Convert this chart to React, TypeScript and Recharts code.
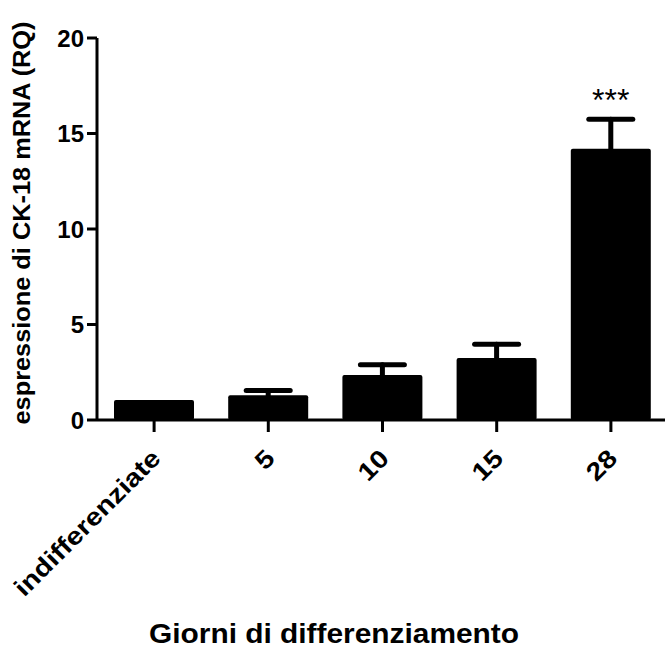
import { BarChart, Bar, XAxis, YAxis, ErrorBar, LabelList } from 'recharts'

const categories = ['indifferenziate', '5', '10', '15', '28']
const means = [1.05, 1.3, 2.35, 3.25, 14.2]
const errors = [0, 0.24, 0.54, 0.72, 1.55]
const significance = ['', '', '', '', '***']
const yTicks = [0, 5, 10, 15, 20]

// only the upper whisker shows in the original; the lower one is kept inside the black bar
const data = categories.map((c, i) => ({
    name: c,
    value: means[i],
    err: errors[i] > 0 ? [means[i] / 2, errors[i]] : null,
    sig: significance[i],
}))

const FONT = '"Liberation Sans", Arial, sans-serif'

// x tick labels: rotated 45deg, a bit wider than plain Arial like the original
function XTick({ x, y, payload }: any) {
    return (
        <g transform={`translate(${x + 8},${y + 26}) rotate(-45) scale(1.15,1)`}>
            <text x={0} y={0} textAnchor="end" fontFamily={FONT} fontWeight="bold" fontSize={25} fill="#000">
                {payload.value}
            </text>
        </g>
    )
}

function StarLabel(props: any) {
    const { x, y, width, height, value, index } = props
    if (!value) return null
    const pxPerUnit = height / means[index]
    const top = y - errors[index] * pxPerUnit
    return (
        <text x={x + width / 2} y={top - 8} textAnchor="middle" fontFamily={FONT} fontSize={32} fill="#000">
            {value}
        </text>
    )
}

export default function App() {
    return (
        <div style={{ position: 'absolute', left: 0, top: 0, width: 665, height: 652, overflow: 'hidden', background: '#fff' }}>
            <BarChart width={680} height={652} data={data} margin={{ top: 38, right: 12, bottom: 0, left: 0 }} barCategoryGap={17}>
                <YAxis
                    width={97}
                    domain={[0, 20]}
                    ticks={yTicks}
                    interval={0}
                    tick={{ fontSize: 24, fontWeight: 'bold', fill: '#000', fontFamily: FONT }}
                    tickSize={10}
                    tickMargin={3}
                    axisLine={{ stroke: '#000', strokeWidth: 3 }}
                    tickLine={{ stroke: '#000', strokeWidth: 3 }}
                    label={({ viewBox }: any) => (
                        <text
                            transform={`translate(22,${viewBox.y + viewBox.height / 2 - 6}) rotate(-90)`}
                            textAnchor="middle"
                            dominantBaseline="central"
                            fontFamily={FONT}
                            fontWeight="bold"
                            fontSize={23}
                            textLength={403}
                            lengthAdjust="spacingAndGlyphs"
                            fill="#000"
                        >
                            espressione di CK-18 mRNA (RQ)
                        </text>
                    )}
                />
                <XAxis
                    dataKey="name"
                    height={232}
                    interval={0}
                    tick={<XTick />}
                    tickSize={12}
                    axisLine={{ stroke: '#000', strokeWidth: 3 }}
                    tickLine={{ stroke: '#000', strokeWidth: 3 }}
                    label={() => (
                        <text
                            x={334}
                            y={643}
                            textAnchor="middle"
                            fontFamily={FONT}
                            fontWeight="bold"
                            fontSize={27}
                            textLength={370}
                            lengthAdjust="spacingAndGlyphs"
                            fill="#000"
                        >
                            Giorni di differenziamento
                        </text>
                    )}
                />
                <Bar dataKey="value" fill="#000" barSize={80} radius={2} isAnimationActive={false}>
                    <ErrorBar dataKey="err" direction="y" width={22} stroke="#000" strokeWidth={5} strokeLinecap="round" isAnimationActive={false} />
                    <LabelList dataKey="sig" content={<StarLabel />} />
                </Bar>
            </BarChart>
        </div>
    )
}
